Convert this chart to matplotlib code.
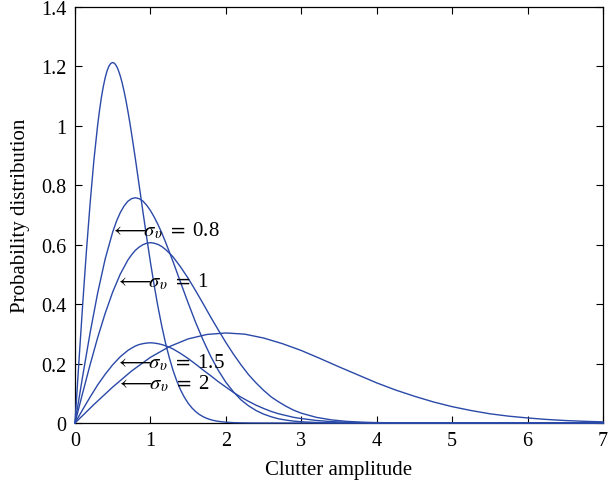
import matplotlib

matplotlib.use("Agg")
import matplotlib.pyplot as plt

# values (one list pair per curve)
x_s05 = [0, 0.05, 0.10, 0.15, 0.20, 0.25, 0.30, 0.325, 0.35, 0.375, 0.40, 0.425,
         0.4375, 0.45, 0.4625, 0.475, 0.4875, 0.50, 0.5125, 0.525, 0.5375, 0.55,
         0.5625, 0.575, 0.60, 0.625, 0.65, 0.675, 0.70, 0.725, 0.75, 0.80, 0.85,
         0.90, 0.95, 1.00, 1.05, 1.10, 1.15, 1.20, 1.25, 1.30, 1.35, 1.40, 1.45,
         1.50, 1.55, 1.60, 1.65, 1.70, 1.75, 1.80, 1.85, 1.90, 1.95, 2.00, 2.10,
         2.20, 2.30, 2.50, 3.00, 7.00]
y_s05 = [0, 0.199, 0.392, 0.574, 0.738, 0.883, 1.002, 1.052, 1.096, 1.132, 1.162,
         1.185, 1.193, 1.201, 1.206, 1.210, 1.212, 1.213, 1.212, 1.210, 1.206,
         1.201, 1.195, 1.187, 1.168, 1.145, 1.117, 1.086, 1.051, 1.014, 0.974,
         0.890, 0.801, 0.712, 0.625, 0.541, 0.463, 0.391, 0.327, 0.269, 0.220,
         0.177, 0.141, 0.111, 0.0866, 0.0667, 0.0508, 0.0383, 0.0285, 0.0210,
         0.0153, 0.0110, 0.0079, 0.0056, 0.0039, 0.0027, 0.0012, 0.0006, 0.0002,
         0.0, 0.0, 0.0]

x_s08 = [0, 0.1, 0.2, 0.3, 0.4, 0.5, 0.55, 0.6, 0.65, 0.7, 0.75, 0.8, 0.85, 0.9,
         0.95, 1.0, 1.05, 1.1, 1.15, 1.2, 1.3, 1.4, 1.5, 1.6, 1.7, 1.8, 1.9, 2.0,
         2.1, 2.2, 2.3, 2.4, 2.5, 2.6, 2.7, 2.8, 2.9, 3.0, 3.2, 3.5, 4.0, 7.0]
y_s08 = [0, 0.155, 0.303, 0.437, 0.552, 0.643, 0.679, 0.708, 0.730, 0.746, 0.755,
         0.758, 0.755, 0.747, 0.733, 0.715, 0.693, 0.668, 0.640, 0.609, 0.543,
         0.473, 0.404, 0.338, 0.278, 0.224, 0.177, 0.137, 0.105, 0.078, 0.058,
         0.042, 0.030, 0.021, 0.014, 0.0096, 0.0063, 0.0041, 0.0017, 0.0004, 0.0,
         0.0]

x_mid = [0, 0.1, 0.2, 0.3, 0.4, 0.5, 0.6, 0.7, 0.75, 0.8, 0.85, 0.9, 0.95, 1.0,
         1.05, 1.1, 1.15, 1.2, 1.25, 1.3, 1.4, 1.5, 1.6, 1.7, 1.8, 1.9, 2.0, 2.1,
         2.2, 2.3, 2.4, 2.5, 2.6, 2.7, 2.8, 2.9, 3.0, 3.2, 3.4, 3.6, 3.8, 4.0, 4.5,
         5.0, 7.0]
y_s1 = [0, 0.0995, 0.196, 0.287, 0.369, 0.441, 0.501, 0.548, 0.566, 0.581, 0.592,
        0.600, 0.605, 0.607, 0.605, 0.601, 0.594, 0.584, 0.572, 0.559, 0.525,
        0.487, 0.445, 0.401, 0.356, 0.313, 0.271, 0.232, 0.196, 0.163, 0.135,
        0.110, 0.088, 0.071, 0.056, 0.043, 0.033, 0.019, 0.0105, 0.0055, 0.0028,
        0.0013, 0.0002, 0.0, 0.0]
y_s15 = [0, 0.0443, 0.0872, 0.128, 0.164, 0.196, 0.223, 0.244, 0.252, 0.259,
         0.264, 0.267, 0.269, 0.270, 0.269, 0.267, 0.264, 0.260, 0.255, 0.249,
         0.234, 0.217, 0.198, 0.178, 0.159, 0.139, 0.121, 0.103, 0.087, 0.073,
         0.060, 0.049, 0.039, 0.031, 0.025, 0.019, 0.015, 0.0085, 0.0047, 0.0024,
         0.0012, 0.0006, 0.0001, 0.0, 0.0]

x_s2 = [0, 0.25, 0.5, 0.75, 1.0, 1.25, 1.5, 1.75, 2.0, 2.25, 2.5, 2.75, 3.0, 3.25,
        3.5, 3.75, 4.0, 4.25, 4.5, 4.75, 5.0, 5.25, 5.5, 5.75, 6.0, 6.25, 6.5,
        6.75, 7.0]
y_s2 = [0, 0.062, 0.121, 0.175, 0.221, 0.257, 0.283, 0.298, 0.303, 0.299, 0.286,
        0.267, 0.244, 0.217, 0.189, 0.162, 0.135, 0.111, 0.090, 0.071, 0.055,
        0.042, 0.031, 0.023, 0.017, 0.012, 0.0083, 0.0057, 0.0038]

labels = ["0.8", "1", "1.5", "2"]
label_x = [0.47, 0.53, 0.53, 0.55]
label_y = [0.651, 0.479, 0.204, 0.134]

x_ticks = [0, 1, 2, 3, 4, 5, 6, 7]
y_ticks = [0, 0.2, 0.4, 0.6, 0.8, 1.0, 1.2, 1.4]
y_ticklabels = ["0", "0.2", "0.4", "0.6", "0.8", "1", "1.2", "1.4"]

plt.rcParams["font.family"] = ["Liberation Serif", "DejaVu Serif"]
plt.rcParams["mathtext.fontset"] = "stix"

line_color = "#2a49a8"

fig = plt.figure(figsize=(6.08, 4.89), dpi=100)
ax = fig.add_axes([75 / 608, 65 / 489, 528 / 608, 416 / 489])

for xs, ys in [(x_s05, y_s05), (x_s08, y_s08), (x_mid, y_s1),
               (x_mid, y_s15), (x_s2, y_s2)]:
    ax.plot(xs, ys, color=line_color, linewidth=1.0, clip_on=False, zorder=3,
            solid_joinstyle="round")

for lab, lx, ly in zip(labels, label_x, label_y):
    ax.text(lx, ly, r"$\longleftarrow\!\!\sigma_{\upsilon}\ =\ $" + lab,
            ha="left", va="center", fontsize=15, zorder=4)

ax.set_xlim(0, 7)
ax.set_ylim(0, 1.4)
ax.set_xticks(x_ticks)
ax.set_yticks(y_ticks)
ax.set_yticklabels(y_ticklabels)
ax.tick_params(direction="in", top=True, right=True, length=5, width=0.8,
               labelsize=14.5, pad=6)
for s in ax.spines.values():
    s.set_linewidth(0.9)

ax.set_xlabel("Clutter amplitude", fontsize=15, labelpad=7)
ax.set_ylabel("Probability distribution", fontsize=15, labelpad=8)

fig.savefig("out.png", dpi=100)
